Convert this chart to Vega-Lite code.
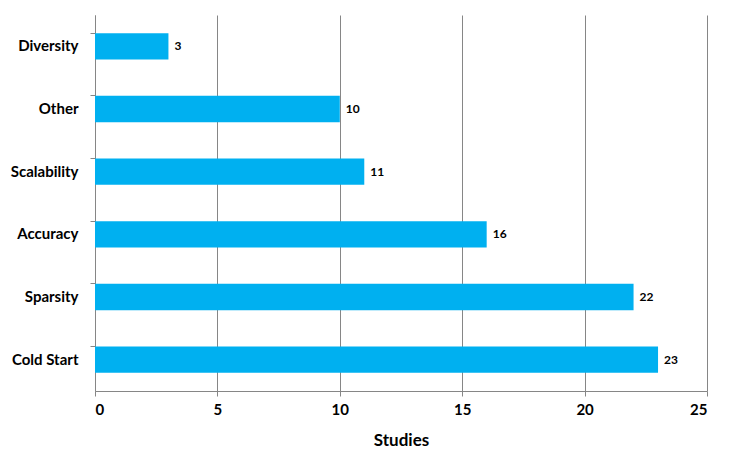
{
  "$schema": "https://vega.github.io/schema/vega-lite/v6.json",
  "autosize": "none",
  "width": 612,
  "height": 376,
  "padding": {"left": 95, "top": 15, "right": 26, "bottom": 78},
  "background": "white",
  "config": {
    "view": {"stroke": null},
    "font": "Lato",
    "axis": {"labelFont": "Lato", "titleFont": "Lato"}
  },
  "data": {
    "values": [
      {"challenge": "Diversity", "studies": 3},
      {"challenge": "Other", "studies": 10},
      {"challenge": "Scalability", "studies": 11},
      {"challenge": "Accuracy", "studies": 16},
      {"challenge": "Sparsity", "studies": 22},
      {"challenge": "Cold Start", "studies": 23}
    ]
  },
  "encoding": {
    "y": {
      "field": "challenge",
      "type": "nominal",
      "sort": null,
      "scale": {"paddingInner": 0.58, "paddingOuter": 0.29},
      "axis": {
        "title": null,
        "bandPosition": 0,
        "domainColor": "#868686",
        "tickColor": "#868686",
        "tickSize": 5,
        "labelFontSize": 15,
        "labelFontWeight": "bold",
        "labelColor": "black",
        "labelPadding": 12,
        "grid": false
      }
    },
    "x": {
      "field": "studies",
      "type": "quantitative",
      "scale": {"domain": [0, 25], "nice": false},
      "axis": {
        "title": "Studies",
        "titleFontSize": 17,
        "titleFontWeight": "bold",
        "titleColor": "black",
        "titlePadding": 15,
        "values": [0, 5, 10, 15, 20, 25],
        "grid": true,
        "gridColor": "#868686",
        "gridWidth": 1,
        "domainColor": "#868686",
        "tickColor": "#868686",
        "tickSize": 5,
        "labelFontSize": 15,
        "labelFontWeight": "bold",
        "labelColor": "black",
        "labelPadding": 6
      }
    }
  },
  "layer": [
    {"mark": {"type": "bar", "color": "#00B0F0"}},
    {
      "mark": {"type": "text", "align": "left", "dx": 6, "fontSize": 12, "fontWeight": "bold", "color": "black"},
      "encoding": {"text": {"field": "studies", "type": "quantitative"}}
    }
  ]
}
